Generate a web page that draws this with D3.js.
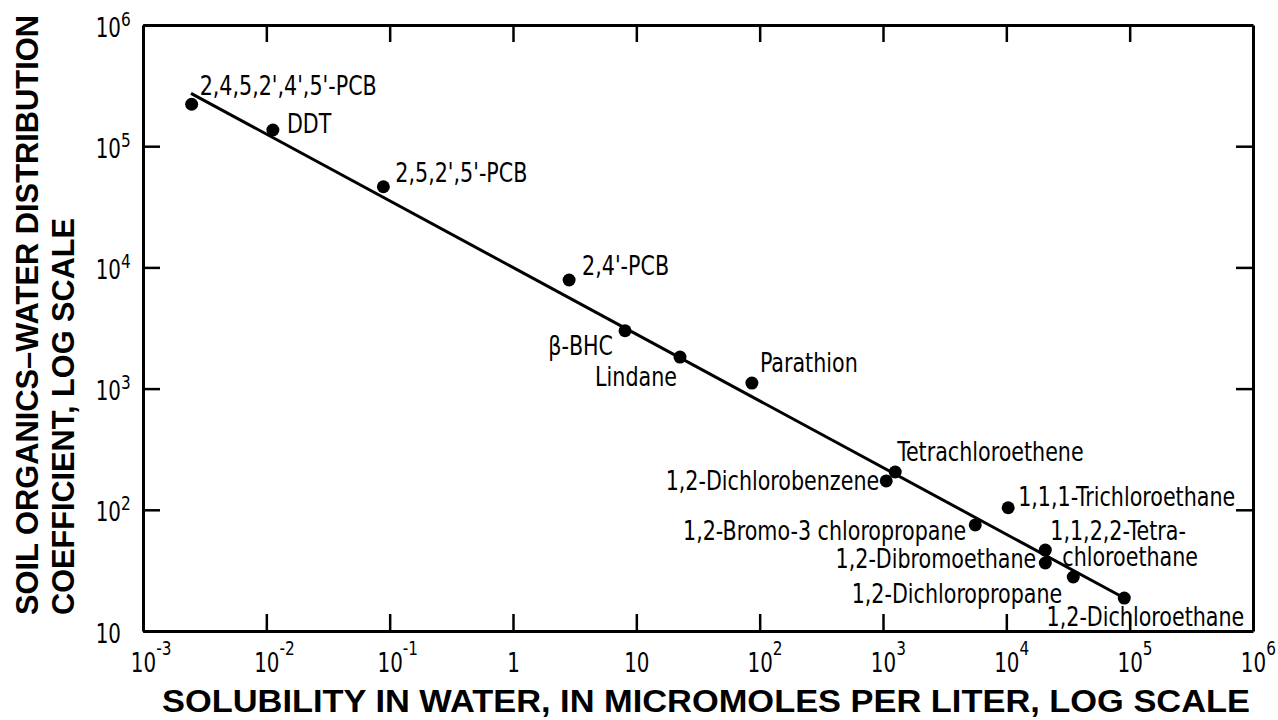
<!DOCTYPE html>
<html>
<head>
<meta charset="utf-8">
<script src="https://cdn.jsdelivr.net/npm/d3@7"></script>
<style>
  body { margin: 0; background: #fff; }
  svg { display: block; }
  .lbl { font-family: "Liberation Sans Narrow", "DejaVu Sans Condensed", sans-serif; fill: #000; }
  .ttl { font-family: "Liberation Sans", Arial, sans-serif; font-weight: bold; fill: #000; }
</style>
</head>
<body>
<svg width="1278" height="720"></svg>
<script>
// data
var compounds = [
  "2,4,5,2',4',5'-PCB", "DDT", "2,5,2',5'-PCB", "2,4'-PCB", "\u03B2-BHC", "Lindane",
  "Parathion", "Tetrachloroethene", "1,2-Dichlorobenzene", "1,1,1-Trichloroethane",
  "1,2-Bromo-3 chloropropane", "1,1,2,2-Tetra-|chloroethane", "1,2-Dibromoethane",
  "1,2-Dichloropropane", "1,2-Dichloroethane"
];
var solubility = [0.00248, 0.0113, 0.0889, 2.85, 8.1, 22.6, 86.5, 1256, 1062, 10350, 5600, 20700, 20700, 34900, 90400];
var distribution = [222000, 136000, 46300, 7870, 3000, 1820, 1110, 205, 173, 104, 75, 46.5, 36.4, 27.9, 18.7];
// fitted line, end points
var fitX = [0.00245, 90400];
var fitY = [273000, 18.7];

var xTicks = [1e-3, 1e-2, 1e-1, 1, 10, 1e2, 1e3, 1e4, 1e5, 1e6];
var xTickLabels = ["10^-3", "10^-2", "10^-1", "1", "10", "10^2", "10^3", "10^4", "10^5", "10^6"];
var yTicks = [10, 1e2, 1e3, 1e4, 1e5, 1e6];
var yTickLabels = ["10", "10^2", "10^3", "10^4", "10^5", "10^6"];

// label placement, px offsets from the point: [dx, dy, anchor]
var place = {
  "2,4,5,2',4',5'-PCB": [8, -9, "start"],
  "DDT": [14, 3, "start"],
  "2,5,2',5'-PCB": [12, -5, "start"],
  "2,4'-PCB": [13, -5, "start"],
  "\u03B2-BHC": [-12, 24, "end"],
  "Lindane": [-3, 29, "end"],
  "Parathion": [8, -11, "start"],
  "Tetrachloroethene": [2, -11, "start"],
  "1,2-Dichlorobenzene": [-7, 9, "end"],
  "1,1,1-Trichloroethane": [10, -2, "start"],
  "1,2-Bromo-3 chloropropane": [-9, 15, "end"],
  "1,1,2,2-Tetra-|chloroethane": [5, -10, "start"],
  "1,2-Dibromoethane": [-9, 5, "end"],
  "1,2-Dichloropropane": [-11, 26, "end"],
  "1,2-Dichloroethane": [120, 28, "end"]
};

var margin = {left: 143, right: 25, top: 25, bottom: 89};
var width = 1278, height = 720;
var squeeze = 0.85; // lettering is narrower than the fallback font
var svg = d3.select('svg');
svg.append('rect').attr('width', width).attr('height', height).attr('fill', '#fff');

var x = d3.scaleLog().domain([1e-3, 1e6]).range([margin.left, width - margin.right]);
var y = d3.scaleLog().domain([10, 1e6]).range([height - margin.bottom, margin.top]);

function narrow(sel){
  sel.each(function(){
    var w = this.getComputedTextLength();
    d3.select(this).attr('textLength', w * squeeze).attr('lengthAdjust', 'spacingAndGlyphs');
  });
}

var tick = 17;
function styleAxis(g){
  g.select('.domain').attr('stroke-width', 3).attr('stroke', '#000');
  g.selectAll('.tick line').attr('stroke-width', 2.5).attr('stroke', '#000');
}

// writes "10" plus a raised exponent into a tick's text, squeezed sideways
function powerLabel(textSel, label, baseY, supDy, align){
  var parts = label.split('^');
  textSel.text(null).attr('class', 'lbl').attr('font-size', 26)
    .attr('dy', null).attr('text-anchor', 'start')
    .attr('transform', 'scale(' + squeeze + ',1)');
  var base = textSel.append('tspan').attr('y', baseY).text(parts[0]);
  var bw = base.node().getComputedTextLength();
  if (parts.length > 1) {
    textSel.append('tspan').attr('font-size', 20).attr('dy', supDy).text(parts[1]);
  }
  // align: centre of base on the tick, or base right edge at a fixed offset
  var x0 = align === 'centre' ? -bw / 2 : align / squeeze - bw;
  textSel.attr('x', x0);
  base.attr('x', x0);
}

// bottom axis with labels
var xb = svg.append('g')
  .attr('transform', 'translate(0,' + (height - margin.bottom) + ')')
  .call(d3.axisBottom(x).tickValues(xTicks).tickSizeInner(-tick).tickSizeOuter(0));
styleAxis(xb);
xb.selectAll('.tick text').each(function(d, i){
  powerLabel(d3.select(this), xTickLabels[i], 41, -17, 'centre');
});

// top axis, ticks only
var xt = svg.append('g')
  .attr('transform', 'translate(0,' + margin.top + ')')
  .call(d3.axisTop(x).tickValues(xTicks.slice(1, -1)).tickSizeInner(-tick).tickSizeOuter(0).tickFormat(''));
styleAxis(xt);

// left axis with labels
var yl = svg.append('g')
  .attr('transform', 'translate(' + margin.left + ',0)')
  .call(d3.axisLeft(y).tickValues(yTicks).tickSizeInner(-tick).tickSizeOuter(0));
styleAxis(yl);
yl.selectAll('.tick text').each(function(d, i){
  powerLabel(d3.select(this), yTickLabels[i], 11, -11, -22);
});

// right axis, ticks only
var yr = svg.append('g')
  .attr('transform', 'translate(' + (width - margin.right) + ',0)')
  .call(d3.axisRight(y).tickValues(yTicks.slice(1, -1)).tickSizeInner(-tick).tickSizeOuter(0).tickFormat(''));
styleAxis(yr);

// fitted line
svg.append('path')
  .datum(d3.zip(fitX, fitY))
  .attr('d', d3.line().x(function(d){ return x(d[0]); }).y(function(d){ return y(d[1]); }))
  .attr('stroke', '#000').attr('stroke-width', 3).attr('fill', 'none');

// points
var pts = d3.zip(compounds, solubility, distribution);
svg.append('g').selectAll('circle')
  .data(pts).enter().append('circle')
  .attr('cx', function(d){ return x(d[1]); })
  .attr('cy', function(d){ return y(d[2]); })
  .attr('r', 6.5).attr('fill', '#000');

// point labels, one text per line
var labelLines = [];
pts.forEach(function(d){
  d[0].split('|').forEach(function(s, k){
    labelLines.push({text: s, k: k, p: place[d[0]], sx: d[1], sy: d[2]});
  });
});
svg.append('g').selectAll('text')
  .data(labelLines).enter().append('text')
  .attr('class', 'lbl').attr('font-size', 27)
  .attr('x', function(d){ return x(d.sx) + d.p[0] + (d.k ? 12 : 0); })
  .attr('y', function(d){ return y(d.sy) + d.p[1] + (d.k ? 26 : 0); })
  .attr('text-anchor', function(d){ return d.p[2]; })
  .text(function(d){ return d.text; })
  .call(narrow);

// axis titles
svg.append('text').attr('class', 'ttl').attr('font-size', 31)
  .attr('x', 706).attr('y', 712).attr('text-anchor', 'middle')
  .attr('textLength', 1088).attr('lengthAdjust', 'spacingAndGlyphs')
  .text('SOLUBILITY IN WATER, IN MICROMOLES PER LITER, LOG SCALE');
svg.append('text').attr('class', 'ttl').attr('font-size', 31)
  .attr('transform', 'translate(38,615) rotate(-90)')
  .attr('textLength', 600).attr('lengthAdjust', 'spacingAndGlyphs')
  .text('SOIL ORGANICS\u2013WATER DISTRIBUTION');
svg.append('text').attr('class', 'ttl').attr('font-size', 31)
  .attr('transform', 'translate(74,615) rotate(-90)')
  .attr('textLength', 397).attr('lengthAdjust', 'spacingAndGlyphs')
  .text('COEFFICIENT, LOG SCALE');
</script>
</body>
</html>
